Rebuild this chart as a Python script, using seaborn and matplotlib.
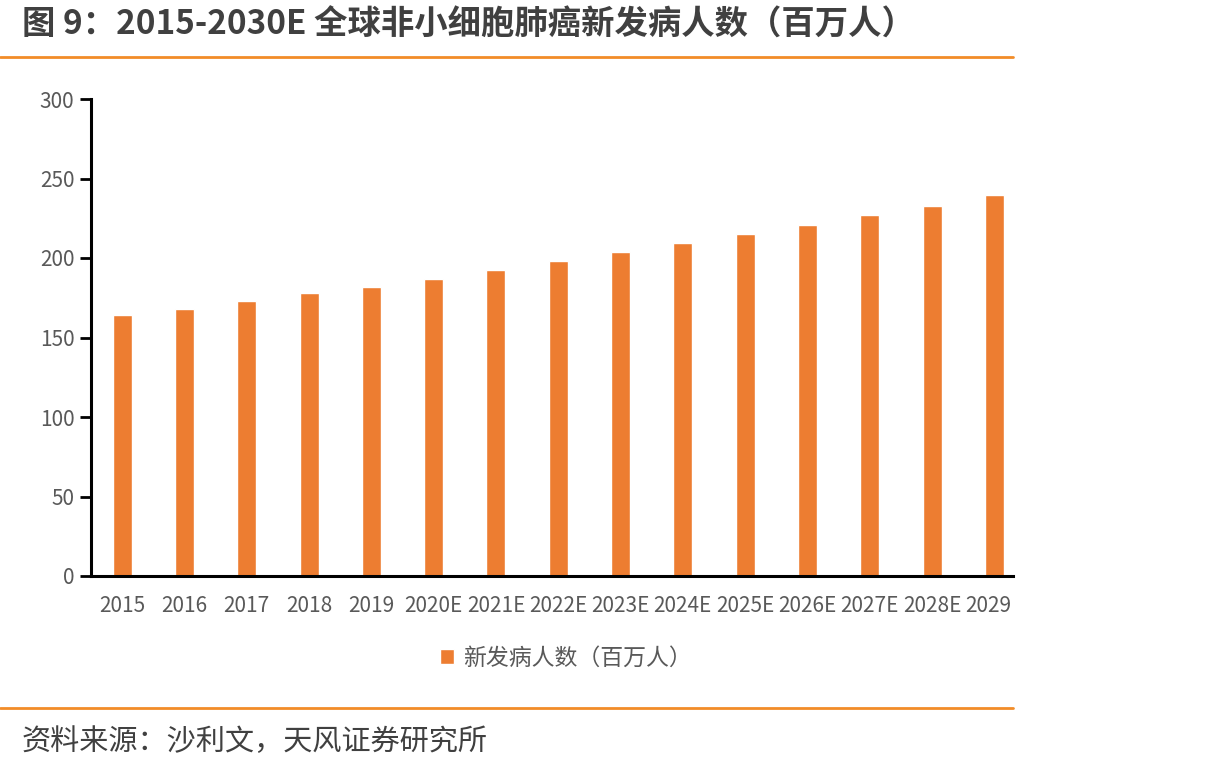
import matplotlib
matplotlib.use("Agg")
import matplotlib.pyplot as plt
import seaborn as sns
import pandas as pd
from matplotlib.lines import Line2D
from matplotlib.transforms import Bbox, TransformedBbox

years = ["2015", "2016", "2017", "2018", "2019", "2020E", "2021E", "2022E",
         "2023E", "2024E", "2025E", "2026E", "2027E", "2028E", "2029E"]
values = [164, 168, 173, 178, 182, 187, 192.5, 198, 204, 209.5, 215, 221, 227, 233, 239.5]
series_name = "新发病人数（百万人）"
title_text = "图 9：2015-2030E 全球非小细胞肺癌新发病人数（百万人）"
source_text = "资料来源：沙利文，天风证券研究所"
yticks = [0, 50, 100, 150, 200, 250, 300]

sns.set_theme(style="white")
plt.rcParams['font.family'] = ['Noto Sans CJK SC', 'DejaVu Sans']

W, H = 1215, 771
fig = plt.figure(figsize=(W / 100, H / 100), dpi=100)
ax = fig.add_axes([91 / W, (H - 576) / H, (1013 - 91) / W, (576 - 99) / H])

df = pd.DataFrame({"year": years, "value": values, "series": series_name})
orange = "#ED7D31"
sns.barplot(data=df, x="year", y="value", hue="series", palette=[orange],
            width=0.305, ax=ax, saturation=1, legend=True)

ax.set_ylim(0, 300)
ax.set_yticks(yticks)
ax.set_xlim(-0.5, 14.3)
ax.set_xlabel("")
ax.set_ylabel("")
for s in ["top", "right"]:
    ax.spines[s].set_visible(False)
for s in ["left", "bottom"]:
    ax.spines[s].set_color("black")
    ax.spines[s].set_linewidth(2.2)
ax.tick_params(axis="y", which="major", length=8, width=2, color="black",
               labelsize=15, labelcolor="#595959", pad=4, direction="out", left=True)
ax.tick_params(axis="x", length=0, labelsize=15, labelcolor="#595959", pad=14)

clip = TransformedBbox(Bbox([[0, 0], [1013, H]]), fig.dpi_scale_trans + matplotlib.transforms.Affine2D().scale(1 / 100))
for lab in ax.get_xticklabels():
    lab.set_clip_on(True)
    lab.set_clip_box(clip)

# legend
leg = ax.get_legend()
handles = leg.legend_handles
leg.remove()
fig.legend(handles=handles, labels=[series_name], loc="center",
           bbox_to_anchor=(566 / W, 1 - 658 / H), frameon=False, fontsize=16.5,
           labelcolor="#595959", handlelength=0.62, handleheight=0.62,
           handletextpad=0.4)

# title, separator lines, source
fig.text(22 / W, 1 - 25 / H, title_text, fontsize=24, fontweight="bold",
         color="#404040", va="center", ha="left")
fig.add_artist(Line2D([0, 1013 / W], [1 - 57 / H, 1 - 57 / H], color="#F28C28", lw=2))
fig.add_artist(Line2D([0, 1013 / W], [1 - 708 / H, 1 - 708 / H], color="#F28C28", lw=2))
fig.text(22 / W, 1 - 742 / H, source_text, fontsize=21, color="#404040",
         va="center", ha="left")

fig.savefig("out.png", dpi=100, facecolor="white")
